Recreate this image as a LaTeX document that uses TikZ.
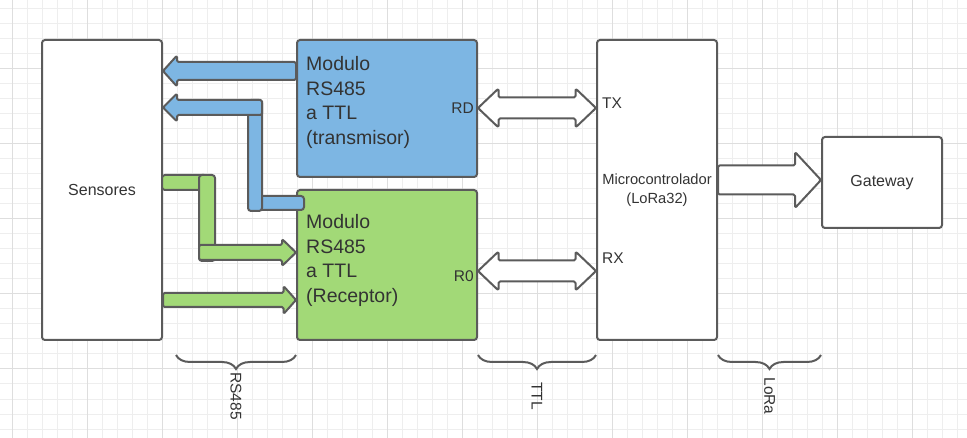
\documentclass[tikz,border=0pt]{standalone}
\usepackage{fontspec}
\setmainfont{Liberation Sans}
\usetikzlibrary{calc, positioning, decorations.pathreplacing}

\definecolor{linegray}{HTML}{5B5B5B}
\definecolor{textgray}{HTML}{333333}
\definecolor{modblue}{HTML}{7DB6E3}
\definecolor{modgreen}{HTML}{A2D977}
\definecolor{gridminor}{HTML}{EEEEEE}
\definecolor{gridmajor}{HTML}{DEDEDE}

\tikzset{
  box/.style={draw=linegray, line width=2pt, rounded corners=3pt, fill=white, text=textgray,
    font=\fontsize{16}{19}\selectfont, align=center, inner sep=0pt},
  modtext/.style={inner sep=0pt, text=textgray, align=left, font=\fontsize{19.5}{24.5}\selectfont},
  port/.style={inner sep=0pt, text=textgray, font=\fontsize{15.5}{18}\selectfont},
  fat/.style={draw=linegray, line width=2pt, line join=round, rounded corners=1.5pt},
  bar/.style={draw=linegray, line width=2pt, rounded corners=3pt},
  bracket/.style={draw=linegray, line width=2pt, decorate, decoration={brace, mirror, amplitude=14pt}},
  bracelabel/.style={rotate=-90, inner sep=0pt, text=textgray, font=\fontsize{15.5}{18}\selectfont},
}

% block arrow: tail, tip, shaft half width, head half width, head length
\newcommand{\fatarrow}[6][]{%
  \draw[#1] let \p1=(#2), \p2=(#3), \n1={ifthenelse(\x2>\x1,1,-1)} in
    (\x1,\y2+#4) -- (\x2-\n1*#6,\y2+#4) -- (\x2-\n1*#6,\y2+#5) -- (\x2,\y2)
    -- (\x2-\n1*#6,\y2-#5) -- (\x2-\n1*#6,\y2-#4) -- (\x1,\y2-#4) -- cycle;}
% double block arrow, left end first
\newcommand{\fatdarrow}[6][]{%
  \draw[#1] let \p1=(#2), \p2=(#3) in
    (\x1,\y1) -- (\x1+#6,\y1+#5) -- (\x1+#6,\y1+#4) -- (\x2-#6,\y1+#4) -- (\x2-#6,\y1+#5)
    -- (\x2,\y1) -- (\x2-#6,\y1-#5) -- (\x2-#6,\y1-#4) -- (\x1+#6,\y1-#4) -- (\x1+#6,\y1-#5) -- cycle;}

\begin{document}
\begin{tikzpicture}[x=1pt, y=-1pt]
  \useasboundingbox[fill=white] (0,0) rectangle (967,438);

  % grid
  \foreach \gx in {12.5,27.5,...,962.5} \draw[gridminor, line width=1pt] (\gx,0) -- (\gx,438);
  \foreach \gy in {9,24,...,429} \draw[gridminor, line width=1pt] (0,\gy) -- (967,\gy);
  \foreach \gx in {12.5,87.5,...,912.5} \draw[gridmajor, line width=1pt] (\gx,0) -- (\gx,438);
  \foreach \gy in {69,144,...,369} \draw[gridmajor, line width=1pt] (0,\gy) -- (967,\gy);

  % blocks
  \node [box, minimum width=120pt, minimum height=300pt] (sens) at (102,190) {Sensores};
  \node [box, fill=modblue, minimum width=180pt, minimum height=137pt] (blue) at (387,108.5) {};
  \node [box, fill=modgreen, minimum width=180pt, minimum height=150pt] (green) at (387,265) {};
  \node [box, minimum width=120pt, minimum height=300pt, font=\fontsize{14.7}{19}\selectfont] (micro) at (657,190) {Microcontrolador\\(LoRa32)};
  \node [box, minimum width=120pt, minimum height=91pt] (gate) at (882,182.5) {Gateway};

  \node [modtext, anchor=west] (bluetext) at ($(blue.west)+(10,-6)$) {Modulo\\RS485\\a TTL\\(transmisor)};
  \node [modtext, anchor=west] (greentext) at ($(green.west)+(10,-4.5)$) {Modulo\\RS485\\a TTL\\(Receptor)};

  \node [port, anchor=east] (rd) at (474,108) {RD};
  \node [port, anchor=east] (r0) at (474,276.5) {R0};
  \node [port, anchor=west] (tx) at (602,103) {TX};
  \node [port, anchor=west] (rx) at (602,258) {RX};

  % RS485 lines
  \fatarrow[fat, fill=modblue]{blue.west |- 0,71}{sens.east |- 0,71}{9}{15.5}{14}
  \draw[bar, fill=modblue] (255,196) rectangle (304,210);
  \draw[bar, fill=modblue] (248,100) rectangle (262,211);
  \fatarrow[fat, fill=modblue]{262,107.5}{sens.east |- 0,107.5}{7.5}{14}{14}

  \draw[bar, fill=modgreen] (162,175) rectangle (207,190);
  \draw[bar, fill=modgreen] (199,175) rectangle (215,261);
  \fatarrow[fat, fill=modgreen]{199,252.5}{green.west |- 0,252.5}{7.5}{13.5}{14}
  \fatarrow[fat, fill=modgreen]{sens.east |- 0,300}{green.west |- 0,300}{7}{14}{12.5}

  % TTL and LoRa
  \fatdarrow[fat, fill=white]{blue.east |- 0,108}{micro.west |- 0,108}{10.5}{19.5}{20.5}
  \fatdarrow[fat, fill=white]{green.east |- 0,271}{micro.west |- 0,271}{10.5}{19.5}{20.5}
  \fatarrow[fat, fill=white]{micro.east |- 0,180}{gate.west |- 0,180}{14.5}{28}{26}

  % braces
  \coordinate (rsa) at (176,355);
  \coordinate (rsb) at (green.west |- 0,355);
  \coordinate (ttla) at (green.east |- 0,355);
  \coordinate (ttlb) at (micro.west |- 0,355);
  \coordinate (loraa) at (micro.east |- 0,355);
  \coordinate (lorab) at (gate.west |- 0,355);
  \draw[bracket] (rsa) -- (rsb);
  \draw[bracket] (ttla) -- (ttlb);
  \draw[bracket] (loraa) -- (lorab);

  \node [bracelabel] (lrs) at ($(rsa)!0.5!(rsb)+(0,41)$) {RS485};
  \node [bracelabel] (lttl) at ($(ttla)!0.5!(ttlb)+(0,41)$) {TTL};
  \node [bracelabel] (llora) at ($(loraa)!0.5!(lorab)+(0,41)$) {LoRa};
\end{tikzpicture}
\end{document}
